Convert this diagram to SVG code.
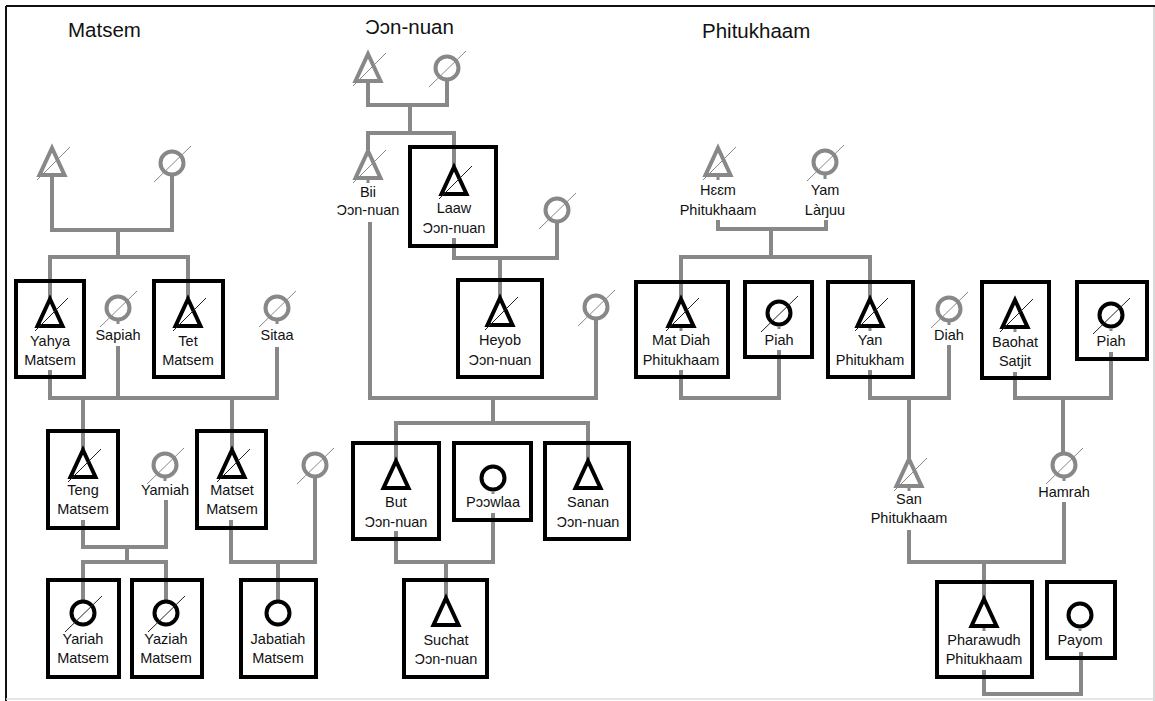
<svg xmlns="http://www.w3.org/2000/svg" xmlns:xlink="http://www.w3.org/1999/xlink" width="1155" height="701" viewBox="0 0 1155 701">
  <style>
    .ln { fill: none; stroke: #888; stroke-width: 4; }
    .box { fill: none; stroke: #000; stroke-width: 4; }
    .sym { fill: #fff; stroke: #000; stroke-width: 4; }
    .gsym { fill: #fff; stroke: #888; stroke-width: 4; }
    .sl { stroke: #222; stroke-width: 1; }
    .gsl { stroke: #888; stroke-width: 1; }
    .tk { stroke: #888; stroke-width: 3; }
    .t { font-family: "Liberation Sans", Arial, "DejaVu Sans", sans-serif; font-size: 14.5px; fill: #111; text-anchor: middle; }
    .title { font-family: "Liberation Sans", Arial, "DejaVu Sans", sans-serif; font-size: 20.5px; fill: #111; }
  </style>
  <defs>
    <!-- male (triangle, anchored at apex) and female (circle, anchored at centre) -->
    <path id="tri" d="M0,0 L12.5,27 L-12.5,27 Z"/>
    <circle id="cir" r="11.5"/>
    <!-- deceased strokes -->
    <line id="tsl" x1="-15" y1="32" x2="18" y2="-1"/>
    <line id="csl" x1="-18" y1="19" x2="19" y2="-17"/>
  </defs>

  <rect width="1155" height="701" fill="#fff"/>
  <!-- frame -->
  <line x1="6" y1="6" x2="1155" y2="6" stroke="#111" stroke-width="2"/>
  <line x1="6" y1="6" x2="6" y2="701" stroke="#111" stroke-width="2"/>
  <line x1="1154" y1="7" x2="1154" y2="701" stroke="#ccc" stroke-width="1.5"/>
  <line x1="6" y1="699" x2="1155" y2="699" stroke="#ddd" stroke-width="1.5"/>

  <!-- family headings -->
  <text class="title" x="68" y="37">Matsem</text>
  <text class="title" x="365" y="34">Ɔɔn-nuan</text>
  <text class="title" x="702" y="38">Phitukhaam</text>

  <!-- connectors -->
  <g id="connectors">
    <!-- Matsem -->
    <polyline class="ln" points="52,177 52,230 172,230 172,175"/>
    <polyline class="ln" points="118,230 118,257"/>
    <polyline class="ln" points="50,298 50,257 188,257 188,298"/>
    <polyline class="ln" points="50,370 50,398 277,398 277,347"/>
    <polyline class="ln" points="118,346 118,398"/>
    <polyline class="ln" points="83,398 83,449"/>
    <polyline class="ln" points="232,398 232,449"/>
    <polyline class="ln" points="83,520 83,547 166,547 166,500"/>
    <polyline class="ln" points="127,547 127,562"/>
    <polyline class="ln" points="83,601 83,562 166,562 166,601"/>
    <polyline class="ln" points="231,520 231,562 315,562 315,477"/>
    <polyline class="ln" points="278,562 278,601"/>
    <!-- Ɔɔn-nuan -->
    <polyline class="ln" points="368,81 368,105 447,105 447,80"/>
    <polyline class="ln" points="410,105 410,133"/>
    <polyline class="ln" points="368,150 368,133 454,133 454,166"/>
    <polyline class="ln" points="454,238 454,258 557,258 557,222"/>
    <polyline class="ln" points="500,258 500,298"/>
    <polyline class="ln" points="370,222 370,398 596,398 596,319"/>
    <polyline class="ln" points="493,398 493,423"/>
    <polyline class="ln" points="396,460 396,423 588,423 588,460"/>
    <polyline class="ln" points="396,531 396,562 493,562 493,513"/>
    <polyline class="ln" points="446,562 446,597"/>
    <!-- Phitukhaam -->
    <polyline class="ln" points="718,220 718,229 826,229 826,220"/>
    <polyline class="ln" points="771,229 771,257"/>
    <polyline class="ln" points="681,298 681,257 870,257 870,298"/>
    <polyline class="ln" points="681,370 681,398 779,398 779,350"/>
    <polyline class="ln" points="870,370 870,398 949,398 949,345"/>
    <polyline class="ln" points="909,398 909,458"/>
    <polyline class="ln" points="1015,372 1015,398 1111,398 1111,352"/>
    <polyline class="ln" points="1063,398 1063,453"/>
    <polyline class="ln" points="909,530 909,562 1064,562 1064,502"/>
    <polyline class="ln" points="984,562 984,598"/>
    <polyline class="ln" points="984,670 984,694 1081,694 1081,652"/>
  </g>

  <!-- Matsem family -->
  <g id="matsem-grandfather">
    <use xlink:href="#tri" x="52" y="148" class="gsym"/>
    <use xlink:href="#tsl" x="52" y="148" class="gsl"/>
  </g>
  <g id="matsem-grandmother">
    <use xlink:href="#cir" x="172" y="163" class="gsym"/>
    <use xlink:href="#csl" x="172" y="163" class="gsl"/>
  </g>
  <g id="yahya-matsem">
    <rect class="box" x="16" y="281" width="68" height="96"/>
    <use xlink:href="#tri" x="50" y="299" class="sym"/>
    <use xlink:href="#tsl" x="50" y="299" class="sl"/>
    <text class="t" x="50" y="346">Yahya</text>
    <text class="t" x="50" y="365">Matsem</text>
  </g>
  <g id="sapiah">
    <use xlink:href="#cir" x="118" y="308" class="gsym"/>
    <use xlink:href="#csl" x="118" y="308" class="gsl"/>
    <line class="tk" x1="118" y1="320" x2="118" y2="324"/>
    <text class="t" x="118" y="340">Sapiah</text>
  </g>
  <g id="tet-matsem">
    <rect class="box" x="154" y="281" width="69" height="96"/>
    <use xlink:href="#tri" x="188" y="299" class="sym"/>
    <use xlink:href="#tsl" x="188" y="299" class="sl"/>
    <text class="t" x="188" y="346">Tet</text>
    <text class="t" x="188" y="365">Matsem</text>
  </g>
  <g id="sitaa">
    <use xlink:href="#cir" x="277" y="308" class="gsym"/>
    <use xlink:href="#csl" x="277" y="308" class="gsl"/>
    <line class="tk" x1="277" y1="320" x2="277" y2="324"/>
    <text class="t" x="277" y="340">Sitaa</text>
  </g>
  <g id="teng-matsem">
    <rect class="box" x="48" y="431" width="70" height="97"/>
    <use xlink:href="#tri" x="83" y="450" class="sym"/>
    <use xlink:href="#tsl" x="83" y="450" class="sl"/>
    <text class="t" x="83" y="495">Teng</text>
    <text class="t" x="83" y="514">Matsem</text>
  </g>
  <g id="yamiah">
    <use xlink:href="#cir" x="165" y="465" class="gsym"/>
    <use xlink:href="#csl" x="165" y="465" class="gsl"/>
    <line class="tk" x1="165" y1="477" x2="165" y2="481"/>
    <text class="t" x="165" y="495">Yamiah</text>
  </g>
  <g id="matset-matsem">
    <rect class="box" x="197" y="431" width="69" height="97"/>
    <use xlink:href="#tri" x="232" y="450" class="sym"/>
    <use xlink:href="#tsl" x="232" y="450" class="sl"/>
    <text class="t" x="232" y="495">Matset</text>
    <text class="t" x="232" y="514">Matsem</text>
  </g>
  <g id="matset-wife">
    <use xlink:href="#cir" x="315" y="465" class="gsym"/>
    <use xlink:href="#csl" x="315" y="465" class="gsl"/>
  </g>
  <g id="yariah-matsem">
    <rect class="box" x="48" y="580" width="71" height="97"/>
    <use xlink:href="#cir" x="83" y="613" class="sym"/>
    <use xlink:href="#csl" x="83" y="613" class="sl"/>
    <text class="t" x="83" y="644">Yariah</text>
    <text class="t" x="83" y="663">Matsem</text>
  </g>
  <g id="yaziah-matsem">
    <rect class="box" x="132" y="580" width="70" height="97"/>
    <use xlink:href="#cir" x="166" y="613" class="sym"/>
    <use xlink:href="#csl" x="166" y="613" class="sl"/>
    <text class="t" x="166" y="644">Yaziah</text>
    <text class="t" x="166" y="663">Matsem</text>
  </g>
  <g id="jabatiah-matsem">
    <rect class="box" x="241" y="580" width="75" height="97"/>
    <use xlink:href="#cir" x="278" y="613" class="sym"/>
    <text class="t" x="278" y="644">Jabatiah</text>
    <text class="t" x="278" y="663">Matsem</text>
  </g>

  <!-- Ɔɔn-nuan family -->
  <g id="oon-grandfather">
    <use xlink:href="#tri" x="368" y="54" class="gsym"/>
    <use xlink:href="#tsl" x="368" y="54" class="gsl"/>
  </g>
  <g id="oon-grandmother">
    <use xlink:href="#cir" x="447" y="68" class="gsym"/>
    <use xlink:href="#csl" x="447" y="68" class="gsl"/>
  </g>
  <g id="bii-oon-nuan">
    <use xlink:href="#tri" x="368" y="151" class="gsym"/>
    <use xlink:href="#tsl" x="368" y="151" class="gsl"/>
    <line class="tk" x1="368" y1="180" x2="368" y2="183"/>
    <text class="t" x="368" y="197">Bii</text>
    <text class="t" x="368" y="215">Ɔɔn-nuan</text>
  </g>
  <g id="laaw-oon-nuan">
    <rect class="box" x="410" y="147" width="86" height="99"/>
    <use xlink:href="#tri" x="454" y="167" class="sym"/>
    <use xlink:href="#tsl" x="454" y="167" class="sl"/>
    <text class="t" x="454" y="213">Laaw</text>
    <text class="t" x="454" y="233">Ɔɔn-nuan</text>
  </g>
  <g id="laaw-wife">
    <use xlink:href="#cir" x="557" y="210" class="gsym"/>
    <use xlink:href="#csl" x="557" y="210" class="gsl"/>
  </g>
  <g id="heyob-oon-nuan">
    <rect class="box" x="458" y="280" width="84" height="97"/>
    <use xlink:href="#tri" x="500" y="298" class="sym"/>
    <use xlink:href="#tsl" x="500" y="298" class="sl"/>
    <text class="t" x="500" y="345">Heyob</text>
    <text class="t" x="500" y="365">Ɔɔn-nuan</text>
  </g>
  <g id="heyob-wife">
    <use xlink:href="#cir" x="596" y="307" class="gsym"/>
    <use xlink:href="#csl" x="596" y="307" class="gsl"/>
  </g>
  <g id="but-oon-nuan">
    <rect class="box" x="353" y="443" width="86" height="96"/>
    <use xlink:href="#tri" x="396" y="461" class="sym"/>
    <text class="t" x="396" y="507">But</text>
    <text class="t" x="396" y="527">Ɔɔn-nuan</text>
  </g>
  <g id="poowlaa">
    <rect class="box" x="454" y="443" width="77" height="77"/>
    <use xlink:href="#cir" x="493" y="478" class="sym"/>
    <line class="tk" x1="493" y1="491" x2="493" y2="494"/>
    <text class="t" x="493" y="507">Pɔɔwlaa</text>
  </g>
  <g id="sanan-oon-nuan">
    <rect class="box" x="545" y="443" width="84" height="96"/>
    <use xlink:href="#tri" x="588" y="461" class="sym"/>
    <text class="t" x="588" y="507">Sanan</text>
    <text class="t" x="588" y="527">Ɔɔn-nuan</text>
  </g>
  <g id="suchat-oon-nuan">
    <rect class="box" x="404" y="580" width="83" height="97"/>
    <use xlink:href="#tri" x="446" y="598" class="sym"/>
    <text class="t" x="446" y="645">Suchat</text>
    <text class="t" x="446" y="664">Ɔɔn-nuan</text>
  </g>

  <!-- Phitukhaam family -->
  <g id="heem-phitukhaam">
    <use xlink:href="#tri" x="718" y="148" class="gsym"/>
    <use xlink:href="#tsl" x="718" y="148" class="gsl"/>
    <line class="tk" x1="718" y1="177" x2="718" y2="180"/>
    <text class="t" x="718" y="195">Hɛɛm</text>
    <text class="t" x="718" y="215">Phitukhaam</text>
  </g>
  <g id="yam-languu">
    <use xlink:href="#cir" x="825" y="162" class="gsym"/>
    <use xlink:href="#csl" x="825" y="162" class="gsl"/>
    <line class="tk" x1="825" y1="175" x2="825" y2="179"/>
    <text class="t" x="825" y="195">Yam</text>
    <text class="t" x="825" y="215">Làŋuu</text>
  </g>
  <g id="mat-diah-phitukhaam">
    <rect class="box" x="636" y="282" width="92" height="95"/>
    <use xlink:href="#tri" x="681" y="299" class="sym"/>
    <use xlink:href="#tsl" x="681" y="299" class="sl"/>
    <line class="tk" x1="681" y1="328" x2="681" y2="331"/>
    <text class="t" x="681" y="345">Mat Diah</text>
    <text class="t" x="681" y="365">Phitukhaam</text>
  </g>
  <g id="piah-1">
    <rect class="box" x="745" y="282" width="67" height="75"/>
    <use xlink:href="#cir" x="779" y="313" class="sym"/>
    <use xlink:href="#csl" x="779" y="313" class="sl"/>
    <line class="tk" x1="779" y1="326" x2="779" y2="329"/>
    <text class="t" x="779" y="345">Piah</text>
  </g>
  <g id="yan-phitukham">
    <rect class="box" x="828" y="282" width="85" height="95"/>
    <use xlink:href="#tri" x="870" y="299" class="sym"/>
    <use xlink:href="#tsl" x="870" y="299" class="sl"/>
    <line class="tk" x1="870" y1="328" x2="870" y2="331"/>
    <text class="t" x="870" y="345">Yan</text>
    <text class="t" x="870" y="365">Phitukham</text>
  </g>
  <g id="diah">
    <use xlink:href="#cir" x="949" y="309" class="gsym"/>
    <use xlink:href="#csl" x="949" y="309" class="gsl"/>
    <line class="tk" x1="949" y1="322" x2="949" y2="325"/>
    <text class="t" x="949" y="340">Diah</text>
  </g>
  <g id="baohat-satjit">
    <rect class="box" x="982" y="282" width="67" height="96"/>
    <use xlink:href="#tri" x="1015" y="300" class="sym"/>
    <use xlink:href="#tsl" x="1015" y="300" class="sl"/>
    <line class="tk" x1="1015" y1="329" x2="1015" y2="332"/>
    <text class="t" x="1015" y="347">Baohat</text>
    <text class="t" x="1015" y="366">Satjit</text>
  </g>
  <g id="piah-2">
    <rect class="box" x="1077" y="282" width="70" height="77"/>
    <use xlink:href="#cir" x="1111" y="315" class="sym"/>
    <use xlink:href="#csl" x="1111" y="315" class="sl"/>
    <line class="tk" x1="1111" y1="328" x2="1111" y2="331"/>
    <text class="t" x="1111" y="346">Piah</text>
  </g>
  <g id="san-phitukhaam">
    <use xlink:href="#tri" x="909" y="459" class="gsym"/>
    <use xlink:href="#tsl" x="909" y="459" class="gsl"/>
    <line class="tk" x1="909" y1="488" x2="909" y2="491"/>
    <text class="t" x="909" y="504">San</text>
    <text class="t" x="909" y="523">Phitukhaam</text>
  </g>
  <g id="hamrah">
    <use xlink:href="#cir" x="1064" y="465" class="gsym"/>
    <use xlink:href="#csl" x="1064" y="465" class="gsl"/>
    <line class="tk" x1="1064" y1="478" x2="1064" y2="481"/>
    <text class="t" x="1064" y="497">Hamrah</text>
  </g>
  <g id="pharawudh-phitukhaam">
    <rect class="box" x="937" y="582" width="95" height="95"/>
    <use xlink:href="#tri" x="984" y="599" class="sym"/>
    <line class="tk" x1="984" y1="628" x2="984" y2="631"/>
    <text class="t" x="984" y="645">Pharawudh</text>
    <text class="t" x="984" y="664">Phitukhaam</text>
  </g>
  <g id="payom">
    <rect class="box" x="1047" y="582" width="68" height="76"/>
    <use xlink:href="#cir" x="1080" y="615" class="sym"/>
    <line class="tk" x1="1080" y1="628" x2="1080" y2="631"/>
    <text class="t" x="1080" y="645">Payom</text>
  </g>
</svg>
